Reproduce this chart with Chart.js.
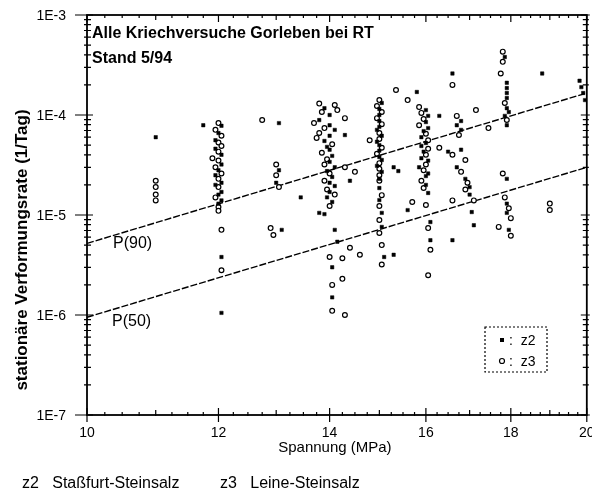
<!DOCTYPE html>
<html>
<head>
<meta charset="utf-8">
<script src="https://cdn.jsdelivr.net/npm/chart.js@4.4.0/dist/chart.umd.min.js"></script>
<style>
  html, body { margin: 0; padding: 0; background: #fff; }
</style>
</head>
<body>
<canvas id="kriechChart" width="592" height="503"></canvas>
<script>
// achsen
const xTicks = [10, 12, 14, 16, 18, 20];
const yTicks = [1e-7, 1e-6, 1e-5, 1e-4, 1e-3];
const yTickLabels = ['1E-7', '1E-6', '1E-5', '1E-4', '1E-3'];

// z2 Stassfurt-Steinsalz (gefuellte Symbole)
const z2Stress = [
  11.0,
  11.75, 12.05, 12.0, 11.95, 11.95, 12.05, 12.05, 12.0, 11.95, 12.05, 11.95, 12.05, 12.0, 12.05, 12.0, 12.05, 12.05,
  13.05, 13.05, 13.0, 13.45, 13.1,
  13.9, 14.0, 13.8, 14.0, 14.1, 14.0, 13.9, 13.95, 14.0, 14.05, 14.0, 14.1, 13.95, 14.05, 14.0, 14.1, 14.0, 13.95,
  14.05, 13.8, 13.9, 14.1, 14.15, 14.05, 14.05, 14.3, 14.4,
  15.05, 15.0, 15.0, 15.0, 15.0, 14.95, 15.05, 14.95, 15.0, 15.0, 15.0, 15.05, 14.95, 15.05, 15.0, 15.0, 15.0,
  15.05, 15.05, 15.1, 15.3, 15.3, 15.4, 15.6, 15.8,
  16.0, 16.05, 16.0, 16.05, 15.95, 15.9, 16.0, 15.9, 15.95, 15.9, 16.05, 15.85, 16.05, 16.0, 16.0, 16.05, 16.1, 16.1,
  16.3, 16.8, 16.6, 16.7, 16.8, 16.5, 16.8, 16.7, 16.9, 17.0, 17.0, 17.05, 17.1, 16.6,
  17.85, 17.9, 17.9, 17.9, 17.9, 17.9, 17.95, 17.85, 17.9, 17.9, 17.9, 17.9, 17.95,
  18.8, 19.8, 19.85, 19.9, 19.95
];
const z2Rate = [
  6.0e-5,
  7.9e-5, 7.8e-5, 6.6e-5, 5.6e-5, 4.6e-5, 4.0e-5, 3.2e-5, 2.8e-5, 2.5e-5, 2.1e-5, 2.0e-5, 1.7e-5, 1.6e-5, 1.4e-5, 1.3e-5, 3.8e-6, 1.05e-6,
  8.3e-5, 2.8e-5, 2.1e-5, 1.5e-5, 7.1e-6,
  1.17e-4, 1.0e-4, 8.9e-5, 7.9e-5, 7.1e-5, 6.2e-5, 5.5e-5, 4.8e-5, 4.5e-5, 3.9e-5, 3.4e-5, 3.0e-5, 2.75e-5, 2.4e-5, 2.1e-5, 1.95e-5, 1.7e-5, 1.5e-5,
  1.35e-5, 1.05e-5, 1.02e-5, 7.1e-6, 5.4e-6, 3.0e-6, 1.5e-6, 6.3e-5, 2.2e-5,
  1.32e-4, 1.15e-4, 1.0e-4, 8.7e-5, 7.6e-5, 7.1e-5, 6.2e-5, 5.4e-5, 5.0e-5, 4.4e-5, 3.8e-5, 3.55e-5, 3.1e-5, 2.7e-5, 2.3e-5, 1.86e-5, 1.41e-5,
  1.05e-5, 7.6e-6, 3.8e-6, 4.0e-6, 3.0e-5, 2.75e-5, 1.12e-5, 1.7e-4,
  1.12e-4, 9.8e-5, 8.5e-5, 7.4e-5, 6.9e-5, 6.0e-5, 5.25e-5, 4.9e-5, 4.3e-5, 3.7e-5, 3.5e-5, 3.0e-5, 2.6e-5, 2.45e-5, 2.0e-5, 1.66e-5, 8.5e-6, 5.6e-6,
  9.8e-5, 8.7e-5, 2.6e-4, 7.9e-5, 7.1e-5, 4.3e-5, 4.5e-5, 3.0e-5, 2.3e-5, 1.9e-5, 1.6e-5, 1.07e-5, 7.9e-6, 5.6e-6,
  3.8e-4, 2.1e-4, 1.86e-4, 1.66e-4, 1.48e-4, 1.17e-4, 1.07e-4, 9.8e-5, 7.9e-5, 2.3e-5, 1.3e-5, 1.05e-5, 7.1e-6,
  2.6e-4, 2.2e-4, 1.9e-4, 1.66e-4, 1.41e-4
];

// z3 Leine-Steinsalz (offene Symbole)
const z3Stress = [
  11.0, 11.0, 11.0, 11.0,
  12.0, 11.95, 12.05, 12.0, 12.05, 12.0, 11.9, 12.0, 11.95, 12.05, 12.0, 12.0, 11.95, 12.0, 12.0, 12.05, 12.05,
  12.75, 13.0, 13.0, 13.05, 12.9, 12.95,
  13.8, 14.1, 14.15, 13.85, 14.3, 13.7, 13.9, 13.8, 13.75, 14.05, 13.85, 13.95, 13.9, 14.0, 13.9, 13.95, 14.1, 14.0,
  14.0, 14.25, 14.4, 14.6, 14.25, 14.05, 14.05, 14.3, 14.8, 14.3, 14.5,
  15.0, 14.95, 15.05, 14.95, 15.05, 15.0, 15.0, 15.05, 14.95, 15.0, 15.0, 15.0, 15.0, 15.05, 15.0, 15.0, 15.0,
  15.05, 15.05, 15.7, 15.35, 15.6,
  15.85, 15.9, 15.95, 15.85, 16.0, 16.05, 16.05, 16.0, 16.0, 15.95, 15.9, 15.95, 16.0, 16.05, 16.1, 16.05,
  16.7, 16.6, 17.15, 17.45, 16.75, 16.3, 16.6, 16.9, 16.8, 16.95, 16.9, 17.1, 16.6, 17.7,
  17.8, 17.8, 17.75, 17.85, 17.9, 17.8, 17.85, 17.95, 18.0, 18.0,
  19.0, 19.0
];
const z3Rate = [
  2.2e-5, 1.9e-5, 1.6e-5, 1.4e-5,
  8.3e-5, 7.1e-5, 6.2e-5, 5.3e-5, 4.9e-5, 4.3e-5, 3.7e-5, 3.5e-5, 3.0e-5, 2.6e-5, 2.3e-5, 1.9e-5, 1.5e-5, 1.2e-5, 1.1e-5, 7.1e-6, 2.8e-6,
  8.9e-5, 3.2e-5, 2.5e-5, 1.9e-5, 7.4e-6, 6.3e-6,
  1.3e-4, 1.26e-4, 1.12e-4, 1.07e-4, 9.3e-5, 8.3e-5, 7.4e-5, 6.6e-5, 5.9e-5, 5.1e-5, 4.2e-5, 3.6e-5, 3.2e-5, 2.6e-5, 2.2e-5, 1.8e-5, 1.6e-5, 1.23e-5,
  3.8e-6, 3.7e-6, 4.7e-6, 4.0e-6, 2.3e-6, 2.0e-6, 1.1e-6, 1.0e-6, 5.6e-5, 3.0e-5, 2.7e-5,
  1.41e-4, 1.23e-4, 1.07e-4, 9.3e-5, 8.1e-5, 6.6e-5, 5.75e-5, 4.7e-5, 4.1e-5, 3.3e-5, 2.9e-5, 2.5e-5, 2.2e-5, 1.58e-5, 1.23e-5, 8.9e-6, 6.6e-6,
  5.0e-6, 3.2e-6, 1.35e-5, 1.78e-4, 1.41e-4,
  1.2e-4, 1.05e-4, 9.1e-5, 7.9e-5, 6.5e-5, 5.6e-5, 4.6e-5, 4.0e-5, 3.2e-5, 2.8e-5, 2.2e-5, 1.86e-5, 1.26e-5, 7.4e-6, 4.5e-6, 2.5e-6,
  9.8e-5, 2.0e-4, 1.12e-4, 7.4e-5, 6.3e-5, 4.7e-5, 4.0e-5, 3.55e-5, 2.7e-5, 2.1e-5, 1.8e-5, 1.4e-5, 1.4e-5, 7.6e-6,
  4.3e-4, 3.4e-4, 2.6e-4, 1.32e-4, 8.9e-5, 2.6e-5, 1.5e-5, 1.17e-5, 9.3e-6, 6.2e-6,
  1.3e-5, 1.12e-5
];

// Ausgleichsgeraden
const lineStress = [10, 20];
const upperRate = [5.2e-6, 1.66e-4];
const lowerRate = [9.5e-7, 3.0e-5];
const upperLabel = 'P(90)';
const lowerLabel = 'P(50)';

const toPoints = (xs, ys) => xs.map((x, i) => ({ x: x, y: ys[i] }));

const FONT = '"Liberation Sans", Arial, sans-serif';

// rahmen, ticks und texte zeichnen
const rahmenPlugin = {
  id: 'rahmen',
  afterDraw(chart) {
    const ctx = chart.ctx;
    const a = chart.chartArea;
    const xs = chart.scales.x;
    const ys = chart.scales.y;
    ctx.save();
    ctx.strokeStyle = '#000';
    ctx.fillStyle = '#000';
    ctx.lineWidth = 1.8;
    ctx.strokeRect(a.left, a.top, a.right - a.left, a.bottom - a.top);

    ctx.lineWidth = 1.2;
    ctx.beginPath();
    // y ticks
    for (let i = 0; i < yTicks.length; i++) {
      const py = ys.getPixelForValue(yTicks[i]);
      ctx.moveTo(a.left - 12, py); ctx.lineTo(a.left + 6, py);
      ctx.moveTo(a.right - 6, py); ctx.lineTo(a.right + 3, py);
      if (i < yTicks.length - 1) {
        for (let m = 2; m <= 9; m++) {
          const p = ys.getPixelForValue(m * yTicks[i]);
          ctx.moveTo(a.left - 3, p); ctx.lineTo(a.left + 4, p);
          ctx.moveTo(a.right - 4, p); ctx.lineTo(a.right + 2, p);
        }
      }
    }
    // x ticks
    for (let v = 10; v <= 20.001; v += 0.25) {
      const px = xs.getPixelForValue(v);
      const major = xTicks.some(t => Math.abs(t - v) < 1e-6);
      const whole = Math.abs(v - Math.round(v)) < 1e-6;
      const len = major ? 7 : (whole ? 5 : 3);
      ctx.moveTo(px, a.bottom - len); ctx.lineTo(px, a.bottom + (major ? 7 : 1));
      ctx.moveTo(px, a.top); ctx.lineTo(px, a.top + len);
    }
    ctx.stroke();

    // tick labels
    ctx.font = '14px ' + FONT;
    ctx.textAlign = 'right';
    ctx.textBaseline = 'middle';
    yTicks.forEach((t, i) => {
      ctx.fillText(yTickLabels[i], a.left - 21, ys.getPixelForValue(t) + 1);
    });
    ctx.textAlign = 'center';
    xTicks.forEach(t => {
      ctx.fillText(String(t), xs.getPixelForValue(t), a.bottom + 18);
    });

    // achsentitel
    ctx.font = '15px ' + FONT;
    ctx.fillText('Spannung (MPa)', (a.left + a.right) / 2 - 2, a.bottom + 33);
    ctx.save();
    ctx.translate(22, 250);
    ctx.rotate(-Math.PI / 2);
    ctx.font = 'bold 17px ' + FONT;
    ctx.fillText('stationäre Verformungsrate (1/Tag)', 0, 0);
    ctx.restore();

    // ueberschrift im diagramm
    ctx.textAlign = 'left';
    ctx.font = 'bold 16px ' + FONT;
    ctx.fillText('Alle Kriechversuche Gorleben bei RT', a.left + 5, 34);
    ctx.fillText('Stand 5/94', a.left + 5, 59);

    // beschriftung der geraden
    ctx.font = '16px ' + FONT;
    ctx.fillText(upperLabel, 113, 244);
    ctx.fillText(lowerLabel, 112, 322);

    // legende
    ctx.setLineDash([2, 2]);
    ctx.strokeRect(485, 327, 62, 45);
    ctx.setLineDash([]);
    ctx.fillRect(500, 338, 4, 4);
    ctx.beginPath();
    ctx.arc(502, 361, 2.5, 0, Math.PI * 2);
    ctx.stroke();
    ctx.font = '14px ' + FONT;
    ctx.fillText(':  z2', 509, 341);
    ctx.fillText(':  z3', 509, 362);

    // fusszeile
    ctx.font = '16px ' + FONT;
    ctx.fillText('z2   Staßfurt-Steinsalz', 22, 484);
    ctx.fillText('z3   Leine-Steinsalz', 220, 484);
    ctx.restore();
  }
};

const ctx = document.getElementById('kriechChart').getContext('2d');
new Chart(ctx, {
  type: 'scatter',
  data: {
    datasets: [
      {
        label: 'z2',
        data: toPoints(z2Stress, z2Rate),
        pointStyle: 'rect',
        pointRadius: 2.4,
        backgroundColor: '#000',
        borderColor: '#000',
        borderWidth: 0.5
      },
      {
        label: 'z3',
        data: toPoints(z3Stress, z3Rate),
        pointStyle: 'circle',
        pointRadius: 2.4,
        backgroundColor: '#fff',
        borderColor: '#000',
        borderWidth: 1.2
      },
      {
        label: upperLabel,
        data: toPoints(lineStress, upperRate),
        showLine: true,
        pointRadius: 0,
        borderColor: '#000',
        borderWidth: 1.4,
        borderDash: [7, 2]
      },
      {
        label: lowerLabel,
        data: toPoints(lineStress, lowerRate),
        showLine: true,
        pointRadius: 0,
        borderColor: '#000',
        borderWidth: 1.4,
        borderDash: [7, 2]
      }
    ]
  },
  options: {
    responsive: false,
    animation: false,
    layout: { padding: { left: 87, right: 4, top: 15, bottom: 88 } },
    scales: {
      x: { type: 'logarithmic', min: 10, max: 20, display: false },
      y: { type: 'logarithmic', min: 1e-7, max: 1e-3, display: false }
    },
    plugins: {
      legend: { display: false },
      tooltip: { enabled: false }
    }
  },
  plugins: [rahmenPlugin]
});
</script>
</body>
</html>
